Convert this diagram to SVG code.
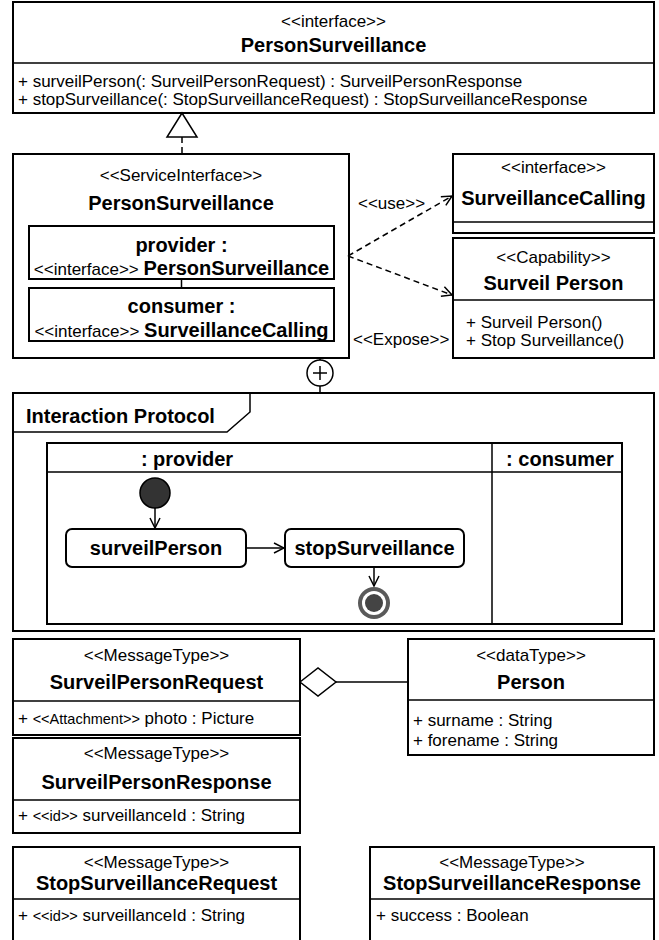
<svg xmlns="http://www.w3.org/2000/svg" width="659" height="940" viewBox="0 0 659 940">
<style>
.box{fill:#fff;stroke:#000;stroke-width:2}
.sep{fill:none;stroke:#000;stroke-width:1.5}
.ln{fill:none;stroke:#000;stroke-width:1.5}
.dash{fill:none;stroke:#000;stroke-width:1.5;stroke-dasharray:6 4}
text{font-family:"Liberation Sans",Arial,Helvetica,sans-serif;fill:#000}
.t{font-size:17px}
.b{font-size:20px;font-weight:bold}
.s{font-size:14.5px}
.c{text-anchor:middle}
</style>
<defs>
<marker id="open" viewBox="0 0 12 12" refX="11" refY="6" markerWidth="12" markerHeight="12" markerUnits="userSpaceOnUse" orient="auto">
<path d="M1,1 L11,6 L1,11" fill="none" stroke="#000" stroke-width="1.5"/>
</marker>
</defs>

<g id="iface-PersonSurveillance">
<rect class="box" x="13" y="2" width="641" height="111"/>
<path class="sep" d="M13,63 H654"/>
<text class="t c" x="333.5" y="27">&lt;&lt;interface&gt;&gt;</text>
<text class="b c" x="333.5" y="52">PersonSurveillance</text>
<text class="t" x="18" y="87">+ surveilPerson(: SurveilPersonRequest) : SurveilPersonResponse</text>
<text class="t" x="18" y="105">+ stopSurveillance(: StopSurveillanceRequest) : StopSurveillanceResponse</text>
</g>

<g id="serviceInterface">
<rect class="box" x="13" y="154" width="336" height="204"/>
<text class="t c" x="181" y="181">&lt;&lt;ServiceInterface&gt;&gt;</text>
<text class="b c" x="181" y="210">PersonSurveillance</text>
</g>

<g id="provider">
<rect class="box" x="29" y="226" width="305" height="53"/>
<text class="b c" x="181.5" y="252">provider :</text>
<text class="c" x="181.5" y="275"><tspan class="t">&lt;&lt;interface&gt;&gt; </tspan><tspan class="b">PersonSurveillance</tspan></text>
</g>

<g id="consumer">
<rect class="box" x="29" y="288" width="305" height="53"/>
<text class="b c" x="181.5" y="313">consumer :</text>
<text class="c" x="181.5" y="337"><tspan class="t">&lt;&lt;interface&gt;&gt; </tspan><tspan class="b">SurveillanceCalling</tspan></text>
</g>

<g id="iface-SurveillanceCalling">
<rect class="box" x="453" y="154" width="201" height="79"/>
<path class="sep" d="M453,222 H654"/>
<text class="t c" x="553.5" y="173">&lt;&lt;interface&gt;&gt;</text>
<text class="b c" x="553.5" y="205">SurveillanceCalling</text>
</g>

<g id="capability">
<rect class="box" x="453" y="238" width="201" height="120"/>
<path class="sep" d="M453,300 H654"/>
<text class="t c" x="553.5" y="263">&lt;&lt;Capability&gt;&gt;</text>
<text class="b c" x="553.5" y="290">Surveil Person</text>
<text class="t" x="466" y="328">+ Surveil Person()</text>
<text class="t" x="466" y="346">+ Stop Surveillance()</text>
</g>

<g id="interactionProtocol">
<rect class="box" x="13" y="393" width="641" height="238"/>
<path class="sep" d="M13,432 H227 L250,412 V393" stroke-width="2"/>
<text class="b" x="26" y="423">Interaction Protocol</text>
</g>

<g id="swimlanes">
<rect class="box" x="47" y="443" width="575" height="181"/>
<path class="sep" d="M47,472 H622 M492,443 V624"/>
<text class="b c" x="187" y="466">: provider</text>
<text class="b c" x="560" y="466">: consumer</text>
</g>

<g id="initial">
<circle cx="155" cy="493" r="15" fill="#333" stroke="#000" stroke-width="1.5"/>
</g>

<g id="act-surveilPerson">
<rect class="box" x="66" y="529" width="180" height="38" rx="6"/>
<text class="b c" x="156" y="555">surveilPerson</text>
</g>

<g id="act-stopSurveillance">
<rect class="box" x="285" y="529" width="179" height="38" rx="6"/>
<text class="b c" x="374.5" y="555">stopSurveillance</text>
</g>

<g id="final">
<circle cx="374" cy="603" r="16" fill="#5a5a5a"/>
<circle cx="374" cy="603" r="12" fill="#fff"/>
<circle cx="374" cy="603" r="9" fill="#444"/>
</g>

<g id="SurveilPersonRequest">
<rect class="box" x="13" y="639" width="287" height="96"/>
<path class="sep" d="M13,701 H300"/>
<text class="t c" x="156.5" y="661">&lt;&lt;MessageType&gt;&gt;</text>
<text class="b c" x="156.5" y="689">SurveilPersonRequest</text>
<text class="t" x="18" y="724">+ <tspan class="s">&lt;&lt;Attachment&gt;&gt;</tspan> photo : Picture</text>
</g>

<g id="SurveilPersonResponse">
<rect class="box" x="13" y="738" width="287" height="95"/>
<path class="sep" d="M13,800 H300"/>
<text class="t c" x="156.5" y="759">&lt;&lt;MessageType&gt;&gt;</text>
<text class="b c" x="156.5" y="789">SurveilPersonResponse</text>
<text class="t" x="18" y="821">+ <tspan class="s">&lt;&lt;id&gt;&gt;</tspan> surveillanceId : String</text>
</g>

<g id="Person">
<rect class="box" x="408" y="639" width="246" height="116"/>
<path class="sep" d="M408,700 H654"/>
<text class="t c" x="531" y="661">&lt;&lt;dataType&gt;&gt;</text>
<text class="b c" x="531" y="689">Person</text>
<text class="t" x="413" y="726">+ surname : String</text>
<text class="t" x="413" y="746">+ forename : String</text>
</g>

<g id="StopSurveillanceRequest">
<rect class="box" x="13" y="847" width="287" height="100"/>
<path class="sep" d="M13,899 H300"/>
<text class="t c" x="156.5" y="868">&lt;&lt;MessageType&gt;&gt;</text>
<text class="b c" x="156.5" y="890">StopSurveillanceRequest</text>
<text class="t" x="18" y="921">+ <tspan class="s">&lt;&lt;id&gt;&gt;</tspan> surveillanceId : String</text>
</g>

<g id="StopSurveillanceResponse">
<rect class="box" x="370" y="847" width="284" height="100"/>
<path class="sep" d="M370,899 H654"/>
<text class="t c" x="512" y="868">&lt;&lt;MessageType&gt;&gt;</text>
<text class="b c" x="512" y="890">StopSurveillanceResponse</text>
<text class="t" x="376" y="921">+ success : Boolean</text>
</g>

<g id="connectors">
<polygon points="182,113 167,137 197,137" fill="#fff" stroke="#000" stroke-width="1.5"/>
<path class="dash" d="M182,137 V154"/>
<path class="ln" d="M181.5,279 V288"/>
<path class="dash" d="M348,256 L452,196" marker-end="url(#open)"/>
<path class="dash" d="M348,256 L452,295" marker-end="url(#open)"/>
<text class="t" x="358" y="209">&lt;&lt;use&gt;&gt;</text>
<text class="t" x="353" y="345">&lt;&lt;Expose&gt;&gt;</text>
<path class="ln" d="M320,358 V360 M320,386 V393"/>
<circle cx="320" cy="373" r="13" fill="#fff" stroke="#000" stroke-width="1.5"/>
<path class="ln" d="M313,373 H327 M320,366 V380" stroke-width="2"/>
<path class="ln" d="M155,508 V528" marker-end="url(#open)"/>
<path class="ln" d="M246,548 H284" marker-end="url(#open)"/>
<path class="ln" d="M374,567 V586" marker-end="url(#open)"/>
<polygon points="300,682 318,668 336,682 318,696" fill="#fff" stroke="#000" stroke-width="1.5"/>
<path class="ln" d="M336,682 H408"/>
</g>
</svg>
